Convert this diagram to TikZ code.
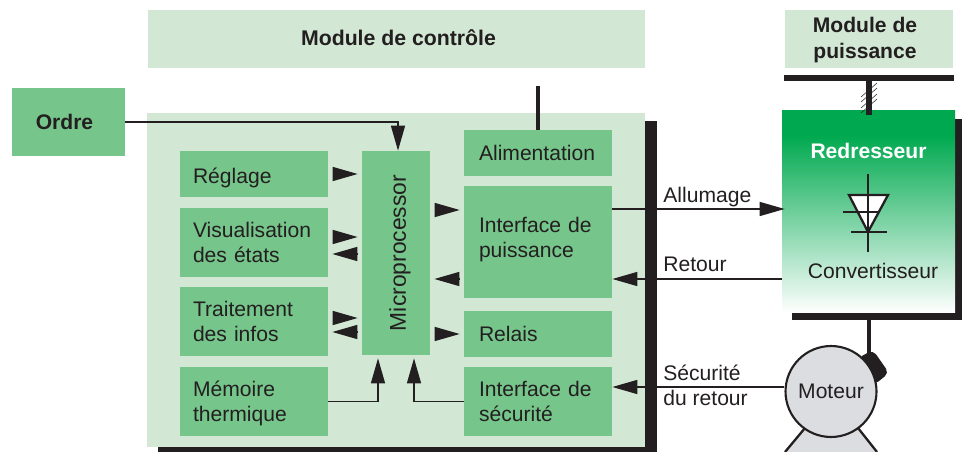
\documentclass[tikz,border=0pt]{standalone}
\usepackage{graphicx}
\usepackage{fontspec}
\setmainfont{Liberation Sans}
\usepackage{tikz}
\usetikzlibrary{positioning,arrows.meta,calc}
\definecolor{palegreen}{HTML}{D2E8D4}
\definecolor{midgreen}{HTML}{76C58B}
\definecolor{deepgreen}{HTML}{00A94F}
\definecolor{inkblack}{HTML}{231F20}
\definecolor{motorgray}{HTML}{DCDDE0}
\pgfdeclareverticalshading{redresseurshade}{100bp}{color(0bp)=(white); color(25bp)=(white); color(68.8bp)=(deepgreen); color(100bp)=(deepgreen)}
\tikzset{
  labeltext/.style={font=\fontsize{12}{14.3}\selectfont, text=inkblack, inner sep=0pt},
  titlebox/.style={fill=palegreen, font=\fontsize{12.1}{14.8}\selectfont\bfseries, text=inkblack, align=center, inner sep=0pt},
  greenbox/.style={labeltext, fill=midgreen, text width=2.44cm, inner xsep=0.26cm, inner ysep=0pt, align=left},
  rightcolumn/.style={greenbox, text width=2.36cm, inner xsep=0.30cm},
  wire/.style={draw=inkblack, line width=0.8pt},
  headarrow/.style={wire, -{Triangle[length=0.5cm,width=0.28cm]}},
  freehead/.style={headarrow, shorten <=5*0.02cm, shorten >=4*0.02cm},
  thickbar/.style={draw=inkblack, line width=1.9pt},
  diodeline/.style={draw=inkblack, line width=1.3pt}
}
\begin{document}
\begin{tikzpicture}[x=0.02cm,y=-0.02cm]
\useasboundingbox (0,0) rectangle (962,452);

% Control module
\node[titlebox, minimum width=9.94cm, minimum height=1.16cm] (controle) at (396.5,39) {\hspace{0.08cm}\raisebox{0.04cm}{Module de contrôle}};
\fill[inkblack] (158,121) rectangle (657,452);
\fill[palegreen] (147,113) rectangle (645,447);

% Power module
\fill[palegreen] (785,10) rectangle (953,68);
\node[font=\fontsize{12}{14.8}\selectfont\bfseries, text=inkblack, align=center, inner sep=0pt] (puissance) at (865,40) {Module de\\puissance};
\fill[inkblack] (784,75) rectangle (954,81);

% Order
\node[labeltext, fill=midgreen, minimum width=2.26cm, minimum height=1.36cm, font=\fontsize{12}{14.3}\selectfont\bfseries] (ordre) at (68.5,122) {\hspace{-0.16cm}Ordre};

% Left column
\node[greenbox, minimum height=0.92cm] (reglage) at (254,174) {\rule{0pt}{0.45cm}Réglage};
\node[greenbox, minimum height=1.38cm] (visu) at (254,242.5) {Visualisation\\des états};
\node[greenbox, minimum height=1.38cm] (traitement) at (254,321.5) {Traitement\\des infos};
\node[greenbox, minimum height=1.38cm] (memoire) at (254,401.5) {\rule{0pt}{0.37cm}Mémoire\\thermique};

% Processor
\node[labeltext, fill=midgreen, minimum width=1.36cm, minimum height=4.08cm, font=\fontsize{13}{15}\selectfont] (micro) at (396,253) {\hspace{0.16cm}\rotatebox{90}{Microprocessor}};

% Right column
\node[rightcolumn, minimum height=0.92cm] (alim) at (538,153) {Alimentation};
\node[rightcolumn, minimum height=2.24cm] (ifpuissance) at (538,242) {Interface de\\puissance\rule[-0.19cm]{0pt}{0.3cm}};
\node[rightcolumn, minimum height=0.92cm] (relais) at (538,334) {Relais};
\node[rightcolumn, minimum height=1.38cm] (ifsecurite) at (538,401.5) {Interface de\\sécurité};

% Converter
\fill[inkblack] (792,119) rectangle (962,320);
\node[shading=redresseurshade, minimum width=3.46cm, minimum height=4.06cm, inner sep=0pt] (redresseur) at (868.5,211.5) {};
\node[font=\fontsize{12}{14.8}\selectfont\bfseries, text=white, inner sep=0pt] (redtitre) at (868.5,151) {Redresseur};
\node[labeltext] (conv) at (873,271) {Convertisseur};

% Diode
\filldraw[diodeline, fill=white] (849,195) -- (888,195) -- (868,232) -- cycle;
\draw[diodeline] (868,174) -- (868,252);
\draw[diodeline] (843,212) -- (878,212);
\draw[diodeline] (851,232) -- (887,232);

% Hatched link
\foreach \yy in {97,102,108,113}
  \draw[inkblack, line width=0.3pt] (861,\yy) -- (877,\yy-14);
\draw[inkblack, line width=3.2pt] (869,81) -- (869,115.5);

% Motor
\filldraw[diodeline, fill=motorgray] (785,452) -- (805,428) -- (858,428) -- (877,452);
\draw[thickbar, line width=2.4pt] (869,320) -- (869,356);
\fill[inkblack, rounded corners=3pt] (858,358) -- (873,350) -- (889,373) -- (874,385) -- cycle;
\node[labeltext, circle, draw=inkblack, line width=1.2pt, fill=motorgray, minimum size=1.82cm] (moteur) at (831,391.5) {Moteur};

% Loose arrowheads
\draw[freehead] (reglage.east) -- (reglage.east -| micro.west);
\draw[freehead] (visu.east |- 0,237) -- (micro.west |- 0,237);
\draw[freehead] (micro.west |- 0,254) -- (visu.east |- 0,254);
\draw[freehead] (traitement.east |- 0,318) -- (micro.west |- 0,318);
\draw[freehead] (micro.west |- 0,332) -- (traitement.east |- 0,332);
\draw[freehead] (micro.east |- 0,210) -- (ifpuissance.west |- 0,210);
\draw[freehead] (ifpuissance.west |- 0,279) -- (micro.east |- 0,279);
\draw[freehead] (micro.east |- relais.west) -- (relais.west);

% Connectors
\draw[headarrow] (ordre.east) -| ([xshift=2*0.02cm]micro.north);
\draw[headarrow, shorten >=3*0.02cm] (memoire.east) -| ([xshift=-18*0.02cm]micro.south);
\draw[headarrow, shorten >=3*0.02cm] (ifsecurite.west) -| ([xshift=18*0.02cm]micro.south);
\draw[thickbar] (alim.north) -- ++(0,-44);
\draw[headarrow] (ifpuissance.east |- 0,209) -- ([xshift=3*0.02cm]redresseur.west |- 0,209);
\draw[headarrow] (redresseur.west |- 0,279) -- (ifpuissance.east |- 0,279);
\draw[headarrow] (moteur.west |- 0,387) -- (ifsecurite.east |- 0,387);
\node[labeltext, anchor=west] (allumagelabel) at (663,197) {Allumage};
\node[labeltext, anchor=west] (retourlabel) at (663,264) {Retour};
\node[labeltext, align=left, anchor=west] (securitelabel) at (663,385.5) {Sécurité\\du retour};
\end{tikzpicture}
\end{document}
